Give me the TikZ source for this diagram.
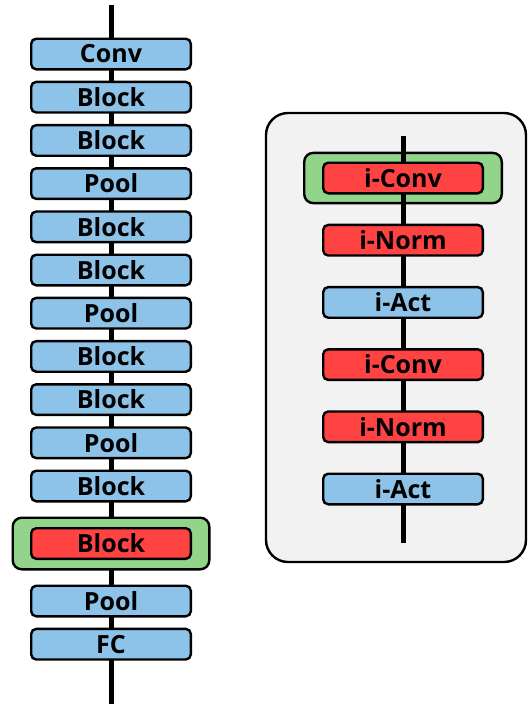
\documentclass[tikz,border=0pt]{standalone}
\usepackage{fontspec}
\setmainfont{Open Sans}
\usetikzlibrary{positioning,fit,backgrounds}
\definecolor{boxblue}{HTML}{8DC3E8}
\definecolor{boxred}{HTML}{FF4343}
\definecolor{boxgreen}{HTML}{93D48B}
\definecolor{panelgray}{HTML}{F2F2F2}

\begin{document}
\begin{tikzpicture}[
	x=1pt, y=1pt,
	node distance=10.2pt,
	layer/.style={rectangle, rounded corners=5pt, draw=black, line width=2.4pt, fill=boxblue, minimum width=159.6pt, minimum height=30.6pt, inner sep=0pt, font=\fontsize{25}{27}\selectfont\bfseries},
	hot/.style={layer, fill=boxred},
	halo/.style={rectangle, rounded corners=9pt, draw=black, line width=2.4pt, fill=boxgreen, inner sep=0pt},
	panel/.style={rectangle, rounded corners=22pt, draw=black, line width=2.4pt, fill=panelgray, inner sep=0pt},
	spine/.style={line width=5pt, draw=black}
]
\useasboundingbox (0,0) rectangle (529,-705);

% backbone network
\node (conv) [layer] at (111,-54) {Conv};
\node (blockA) [layer, below=of conv] {Block};
\node (blockB) [layer, below=of blockA] {Block};
\node (poolA) [layer, below=of blockB] {Pool};
\node (blockC) [layer, below=of poolA] {Block};
\node (blockD) [layer, below=of blockC] {Block};
\node (poolB) [layer, below=of blockD] {Pool};
\node (blockE) [layer, below=of poolB] {Block};
\node (blockF) [layer, below=of blockE] {Block};
\node (poolC) [layer, below=of blockF] {Pool};
\node (blockG) [layer, below=of poolC] {Block};
\node (haloL) [halo, minimum width=196.6pt, minimum height=51.6pt, below=14pt of blockG] {};
\node (blockH) [hot] at (haloL.center) {Block};
\node (poolD) [layer, below=14pt of haloL] {Pool};
\node (fc) [layer, below=of poolD] {FC};

% inner structure of the block
\node (iconvA) [hot] at (403,-178) {i-Conv};
\node (inormA) [hot, below=29.2pt of iconvA] {i-Norm};
\node (iactA) [layer, below=29.2pt of inormA] {i-Act};
\node (iconvB) [hot, below=29.2pt of iactA] {i-Conv};
\node (inormB) [hot, below=29.2pt of iconvB] {i-Norm};
\node (iactB) [layer, below=29.2pt of inormB] {i-Act};

\coordinate (ltop) at ([yshift=33pt]conv.north);
\coordinate (lbottom) at ([yshift=-43pt]fc.south);
\coordinate (rtop) at ([yshift=26pt]iconvA.north);
\coordinate (rbottom) at ([yshift=-37pt]iactB.south);

\begin{pgfonlayer}{background}
\draw [spine] (ltop) -- (lbottom);
\node (frame) [panel, minimum width=260pt, minimum height=449pt] at (396,-337.5) {};
\node (haloR) [halo, fit=(iconvA), inner xsep=17.8pt, inner ysep=8.6pt] {};
\draw [spine] (rtop) -- (rbottom);
\end{pgfonlayer}
\end{tikzpicture}
\end{document}
